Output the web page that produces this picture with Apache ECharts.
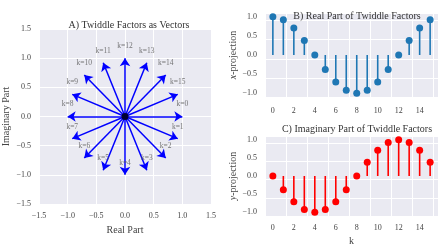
<!DOCTYPE html>
<html>
<head>
<meta charset="utf-8">
<script src="https://cdn.jsdelivr.net/npm/echarts@6/dist/echarts.min.js"></script>
<style>
html, body { margin: 0; padding: 0; background: #fff; }
#main { width: 440px; height: 247px; }
</style>
</head>
<body>
<div id="main"></div>
<script>
// twiddle factors W_16^k
var kValues = [0, 1, 2, 3, 4, 5, 6, 7, 8, 9, 10, 11, 12, 13, 14, 15];
var realPart = [1.0, 0.92, 0.71, 0.38, 0.0, -0.38, -0.71, -0.92, -1.0, -0.92, -0.71, -0.38, 0.0, 0.38, 0.71, 0.92];
var imagPart = [0.0, -0.38, -0.71, -0.92, -1.0, -0.92, -0.71, -0.38, 0.0, 0.38, 0.71, 0.92, 1.0, 0.92, 0.71, 0.38];
var vecTicks = [-1.5, -1.0, -0.5, 0.0, 0.5, 1.0, 1.5];
var stemYTicks = [-1.0, -0.5, 0.0, 0.5, 1.0];
var kTicks = [0, 2, 4, 6, 8, 10, 12, 14];

var serif = 'Liberation Serif';
var txt = '#444';

function fmt1(v) {
    return v.toFixed(1).replace('-', '\u2212');
}

var chartDom = document.getElementById('main');
var myChart = echarts.init(chartDom);

var arrowData = [];
var tipData = [];
var realStem = [];
var imagStem = [];
for (var i = 0; i < kValues.length; i++) {
    arrowData.push({ coords: [[0, 0], [realPart[i], imagPart[i]]] });
    tipData.push([realPart[i], imagPart[i]]);
    realStem.push([kValues[i], realPart[i]]);
    imagStem.push([kValues[i], imagPart[i]]);
}

function valueAxis(idx, min, max, ticks, name, gap, extra) {
    var ax = {
        type: 'value',
        gridIndex: idx,
        min: min,
        max: max,
        interval: ticks[1] - ticks[0],
        axisLine: { show: false },
        axisTick: { show: false },
        splitLine: { show: true, lineStyle: { color: '#ffffff', width: 1 } },
        axisLabel: {
            fontFamily: serif,
            fontSize: 8,
            color: txt,
            margin: 8,
            showMinLabel: true,
            showMaxLabel: true,
            customValues: ticks,
            formatter: function (v) { return fmt1(v); }
        },
        name: name,
        nameLocation: 'middle',
        nameGap: gap,
        nameTextStyle: { fontFamily: serif, fontSize: 10, color: txt }
    };
    for (var key in extra) ax[key] = extra[key];
    return ax;
}

var option = {
    animation: false,
    title: [
        { text: 'A) Twiddle Factors as Vectors', left: 124, top: 15, textAlign: 'center',
          textStyle: { fontFamily: serif, fontSize: 10, fontWeight: 'normal', color: '#333' } },
        { text: 'B) Real Part of Twiddle Factors', left: 352, top: 6, textAlign: 'center',
          textStyle: { fontFamily: serif, fontSize: 10, fontWeight: 'normal', color: '#333' } },
        { text: 'C) Imaginary Part of Twiddle Factors', left: 352, top: 119, textAlign: 'center',
          textStyle: { fontFamily: serif, fontSize: 10, fontWeight: 'normal', color: '#333' } }
    ],
    grid: [
        { left: 38, top: 29, width: 173, height: 175, show: true, backgroundColor: '#eaeaf2', borderWidth: 0 },
        { left: 265, top: 13, width: 173, height: 84, show: true, backgroundColor: '#eaeaf2', borderWidth: 0 },
        { left: 265, top: 136, width: 173, height: 84, show: true, backgroundColor: '#eaeaf2', borderWidth: 0 }
    ],
    xAxis: [
        valueAxis(0, -1.5, 1.5, vecTicks, 'Real Part', 21, {}),
        valueAxis(1, -0.75, 15.75, kTicks, '', 20, {
            axisLabel: { fontFamily: serif, fontSize: 8, color: txt, margin: 10, customValues: kTicks }
        }),
        valueAxis(2, -0.75, 15.75, kTicks, 'k', 20, {
            axisLabel: { fontFamily: serif, fontSize: 8, color: txt, margin: 8, customValues: kTicks }
        })
    ],
    yAxis: [
        valueAxis(0, -1.5, 1.5, vecTicks, 'Imaginary Part', 28, {}),
        valueAxis(1, -1.1, 1.1, stemYTicks, '{i|x}-projection', 27, {
            nameTextStyle: { fontFamily: serif, fontSize: 10, color: txt,
                rich: { i: { fontFamily: serif, fontStyle: 'italic', fontSize: 10, color: txt } } }
        }),
        valueAxis(2, -1.1, 1.1, stemYTicks, '{i|y}-projection', 27, {
            nameTextStyle: { fontFamily: serif, fontSize: 10, color: txt,
                rich: { i: { fontFamily: serif, fontStyle: 'italic', fontSize: 10, color: txt } } }
        })
    ],
    series: [
        {
            type: 'lines',
            coordinateSystem: 'cartesian2d',
            xAxisIndex: 0,
            yAxisIndex: 0,
            symbol: ['none', 'arrow'],
            symbolSize: [6, 8],
            lineStyle: { color: '#0000ff', width: 1.5, opacity: 1 },
            data: arrowData
        },
        {
            type: 'scatter',
            xAxisIndex: 0,
            yAxisIndex: 0,
            symbolSize: 0,
            data: tipData,
            label: {
                show: true,
                position: 'inside',
                offset: [0, -12],
                fontFamily: serif,
                fontSize: 7.5,
                color: '#555',
                formatter: function (p) { return 'k=' + kValues[p.dataIndex]; }
            }
        },
        {
            type: 'scatter',
            xAxisIndex: 0,
            yAxisIndex: 0,
            symbolSize: 7,
            itemStyle: { color: '#000' },
            data: [[0, 0]]
        },
        {
            type: 'bar',
            xAxisIndex: 1,
            yAxisIndex: 1,
            barWidth: 1.6,
            itemStyle: { color: '#1f77b4' },
            data: realStem
        },
        {
            type: 'scatter',
            xAxisIndex: 1,
            yAxisIndex: 1,
            symbolSize: 7,
            itemStyle: { color: '#1f77b4', opacity: 1 },
            data: realStem
        },
        {
            type: 'bar',
            xAxisIndex: 2,
            yAxisIndex: 2,
            barWidth: 1.6,
            itemStyle: { color: '#ff0000' },
            data: imagStem
        },
        {
            type: 'scatter',
            xAxisIndex: 2,
            yAxisIndex: 2,
            symbolSize: 7,
            itemStyle: { color: '#ff0000', opacity: 1 },
            data: imagStem
        }
    ]
};

myChart.setOption(option);
</script>
</body>
</html>
